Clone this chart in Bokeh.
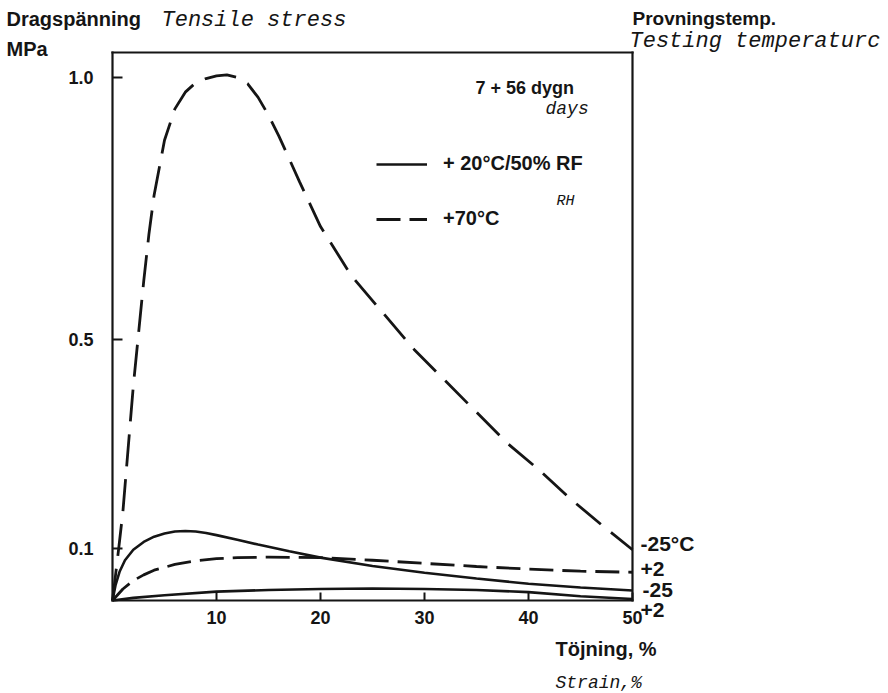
from bokeh.plotting import figure
from bokeh.models import (Label, Legend, LegendItem, FixedTicker, Range1d, PrintfTickFormatter,
                          LinearAxis)
from bokeh.embed import file_html
from bokeh.resources import INLINE

# ---- data ----
# +70 °C conditioning, tested at -25 °C (large dashed curve)
strain_70_m25 = [0, 0.3, 0.6, 1.0, 1.5, 2.0, 2.5, 3.0, 3.5, 4.0, 5.0, 6.0, 7.0, 8.0, 9.0, 10.0, 11.0,
                 12.0, 13.0, 14.0, 15.0, 16.0, 18.0, 20.0, 23.0, 26.0, 29.0, 32.0, 35.0, 38.0, 41.0,
                 44.0, 47.0, 50.0]
stress_70_m25 = [0, 0.05, 0.10, 0.17, 0.29, 0.41, 0.51, 0.61, 0.70, 0.775, 0.88, 0.94, 0.972, 0.99,
                 0.998, 1.003, 1.005, 1.0, 0.988, 0.962, 0.928, 0.888, 0.80, 0.715, 0.62, 0.55, 0.48,
                 0.42, 0.36, 0.30, 0.25, 0.195, 0.145, 0.097]
# +70 °C conditioning, tested at +2 °C (small dashed curve)
strain_70_p2 = [0, 1, 2, 3, 4, 6, 8, 10, 12, 15, 20, 25, 30, 35, 40, 45, 50]
stress_70_p2 = [0, 0.022, 0.038, 0.049, 0.058, 0.069, 0.076, 0.080, 0.082, 0.083, 0.082, 0.077,
                0.071, 0.065, 0.060, 0.056, 0.054]
# +20 °C / 50 % RH, tested at -25 °C (upper solid curve)
strain_20_m25 = [0, 0.3, 0.7, 1.2, 2, 3, 4, 5, 6, 7, 8, 9, 10, 12, 14, 17, 20, 25, 30, 35, 40, 45, 50]
stress_20_m25 = [0, 0.03, 0.056, 0.077, 0.097, 0.112, 0.122, 0.128, 0.132, 0.133, 0.132, 0.129,
                 0.125, 0.116, 0.107, 0.094, 0.082, 0.066, 0.053, 0.042, 0.032, 0.025, 0.019]
# +20 °C / 50 % RH, tested at +2 °C (lower solid curve)
strain_20_p2 = [0, 2, 5, 10, 15, 20, 25, 30, 35, 40, 45, 50]
stress_20_p2 = [0, 0.005, 0.01, 0.017, 0.02, 0.022, 0.023, 0.022, 0.02, 0.016, 0.008, 0.003]

x_ticks = [10, 20, 30, 40, 50]
y_ticks = [0.1, 0.5, 1.0]

SANS = "Liberation Sans"
MONO = "Liberation Mono"
INK = "#151515"

# plot box: strain 0..50, stress 0..1.048 MPa; the frame spans the whole canvas so that
# the surrounding texts can be placed as labels
X0, X1 = 0, 50
Y0, Y1 = 0, 1.048
W, H = 888, 693
PX_X = 10.4   # pixels per % strain
PX_Y = 523.0  # pixels per MPa
LEFT, BOTTOM = 112, 600

p = figure(width=W, height=H,
           x_range=Range1d(-LEFT / PX_X, (W - LEFT) / PX_X),
           y_range=Range1d((BOTTOM - H) / PX_Y, BOTTOM / PX_Y),
           output_backend="svg", toolbar_location=None,
           x_axis_location=None, y_axis_location=None,
           min_border=0, min_border_left=0, min_border_right=0,
           min_border_top=0, min_border_bottom=0)
p.grid.visible = False
p.outline_line_color = None
p.background_fill_color = "white"
p.border_fill_color = "white"


def style_axis(ax):
    ax.axis_line_width = 2.2
    ax.axis_line_color = INK
    ax.axis_line_cap = "square"
    ax.major_tick_line_width = 2
    ax.major_tick_line_color = INK
    ax.major_tick_out = 0
    ax.minor_tick_line_color = None
    ax.major_label_text_font = SANS
    ax.major_label_text_font_style = "bold"
    ax.major_label_text_font_size = "18px"
    ax.major_label_text_color = INK


xa = LinearAxis(fixed_location=Y0, bounds=(X0, X1), ticker=FixedTicker(ticks=x_ticks))
style_axis(xa)
xa.major_tick_in = 8
xa.major_label_standoff = 10
p.add_layout(xa, "below")

ya = LinearAxis(fixed_location=X0, bounds=(Y0, Y1), ticker=FixedTicker(ticks=y_ticks),
                formatter=PrintfTickFormatter(format="%.1f"))
style_axis(ya)
ya.major_tick_in = 10
ya.major_label_standoff = 19
p.add_layout(ya, "left")

ta = LinearAxis(fixed_location=Y1, bounds=(X0, X1), ticker=FixedTicker(ticks=[]))
style_axis(ta)
ta.major_tick_line_color = None
ta.major_label_text_font_size = "0px"
p.add_layout(ta, "above")

ra = LinearAxis(fixed_location=X1, bounds=(Y0, Y1), ticker=FixedTicker(ticks=[]))
style_axis(ra)
ra.major_tick_line_color = None
ra.major_label_text_font_size = "0px"
p.add_layout(ra, "right")

p.line(strain_70_m25, stress_70_m25, line_color=INK, line_width=2.8, line_dash="32 13")
r_dash = p.line(strain_70_p2, stress_70_p2, line_color=INK, line_width=2.8, line_dash="24 9")
r_solid = p.line(strain_20_m25, stress_20_m25, line_color=INK, line_width=2.6)
p.line(strain_20_p2, stress_20_p2, line_color=INK, line_width=2.6)

legend = Legend(items=[LegendItem(label="+ 20°C/50% RF", renderers=[r_solid]),
                       LegendItem(label="+70°C", renderers=[r_dash])],
                location=(376, H - 230), glyph_width=51, glyph_height=20, label_height=20,
                label_standoff=16, spacing=32, padding=0, margin=0,
                border_line_color=None, background_fill_alpha=0,
                label_text_font=SANS, label_text_font_style="bold",
                label_text_font_size="20px", label_text_color=INK)
p.add_layout(legend, "center")


def lab(px, py, text, font=SANS, style="bold", size="20px"):
    # px, py: position in picture pixels, converted to data units of the plot
    p.add_layout(Label(x=(px - LEFT) / PX_X, y=(BOTTOM - py) / PX_Y, text=text,
                       text_font=font, text_font_style=style, text_font_size=size,
                       text_color=INK, text_align="left", text_baseline="middle"))


lab(6, 18, "Dragspänning")
lab(161, 20, "Tensile stress", font=MONO, style="italic", size="22px")
lab(6, 48, "MPa")
lab(632, 18, "Provningstemp.", size="19px")
lab(629, 41, "Testing temperaturc", font=MONO, style="italic", size="22px")
lab(475, 87, "7 + 56 dygn", size="18px")
lab(545, 108, "days", font=MONO, style="italic", size="18px")
lab(556, 201, "RH", font=MONO, style="italic", size="15px")
lab(640, 543, "-25°C", size="21px")
lab(640, 568, "+2", size="21px")
lab(642, 589, "-25", size="21px")
lab(640, 609, "+2", size="21px")
lab(555, 648, "Töjning, %")
lab(555, 682, "Strain,%", font=MONO, style="italic", size="18px")

open("out.html", "w").write(file_html(p, INLINE))
